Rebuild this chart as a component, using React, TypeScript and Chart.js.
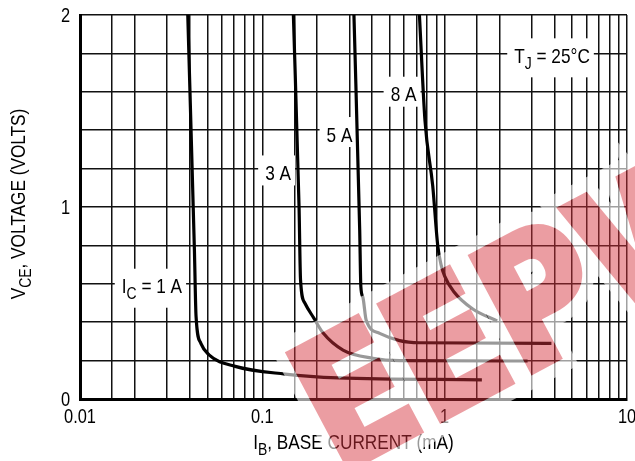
import React, { useEffect, useRef } from 'react';
import { Chart, registerables } from 'chart.js';

Chart.register(...registerables);

// ---- data (I_B in mA, V_CE in volts) ----
const ib1A = [0.039, 0.0424, 0.0433, 0.046, 0.051, 0.071, 0.133, 0.26, 1.6];
const vce1A = [2.0, 0.78, 0.43, 0.29, 0.23, 0.17, 0.13, 0.11, 0.1];

const ib3A = [0.148, 0.159, 0.162, 0.171, 0.192, 0.215, 0.277, 0.404, 0.566, 2.85];
const vce3A = [2.0, 1.0, 0.62, 0.5, 0.42, 0.345, 0.255, 0.212, 0.2, 0.198];

const ib5A = [0.318, 0.342, 0.347, 0.356, 0.371, 0.44, 0.566, 0.727, 3.85];
const vce5A = [2.0, 0.88, 0.585, 0.53, 0.411, 0.342, 0.304, 0.293, 0.29];

const ib8A = [0.727, 0.78, 0.86, 0.916, 0.955, 1.0, 1.12, 1.42, 1.94];
const vce8A = [2.0, 1.45, 1.11, 0.8, 0.7, 0.64, 0.56, 0.47, 0.406];

// grid / tick values
const xGridMantissas = [1, 1.5, 2, 3, 4, 5, 6, 7, 8, 9];
const xDecades = [0.01, 0.1, 1];
const xMax = 10;
const xTickLabels = ['0.01', '0.1', '1', '10'];
const yGrid = [0, 0.2, 0.4, 0.6, 0.8, 1.0, 1.2, 1.4, 1.6, 1.8, 2.0];
const yTickLabels = ['0', '1', '2'];

// annotations (data coordinates of text centre)
const curveLabels = [
  { parts: [{ t: 'I' }, { t: 'C', sub: true }, { t: ' = 1 A' }], x: 0.0248, y: 0.59 },
  { parts: [{ t: '3 A' }], x: 0.122, y: 1.18 },
  { parts: [{ t: '5 A' }], x: 0.265, y: 1.38 },
  { parts: [{ t: '8 A' }], x: 0.595, y: 1.59 },
  { parts: [{ t: 'T' }, { t: 'J', sub: true }, { t: ' = 25°C' }], x: 3.88, y: 1.79 },
];

const xTitle = [{ t: 'I' }, { t: 'B', sub: true }, { t: ', BASE CURRENT (mA)' }];
const yTitle = [{ t: 'V' }, { t: 'CE', sub: true }, { t: ', VOLTAGE (VOLTS)' }];

const FONT = '"Liberation Sans", Arial, sans-serif';
const TXT = 21;
const TICK = 20;
const SX = 0.82; // narrow (condensed) look

type Part = { t: string; sub?: boolean };

function measureParts(ctx: CanvasRenderingContext2D, parts: Part[], size: number) {
  let w = 0;
  for (const p of parts) {
    ctx.font = `${p.sub ? Math.round(size * 0.8) : size}px ${FONT}`;
    w += ctx.measureText(p.t).width;
  }
  return w * SX;
}

function drawParts(ctx: CanvasRenderingContext2D, parts: Part[], x: number, baseline: number, size: number) {
  ctx.save();
  ctx.translate(x, baseline);
  ctx.scale(SX, 1);
  ctx.textAlign = 'left';
  ctx.textBaseline = 'alphabetic';
  let cx = 0;
  for (const p of parts) {
    const s = p.sub ? Math.round(size * 0.8) : size;
    ctx.font = `${s}px ${FONT}`;
    ctx.fillText(p.t, cx, p.sub ? size * 0.27 : 0);
    cx += ctx.measureText(p.t).width;
  }
  ctx.restore();
}

function toXY(xs: number[], ys: number[]) {
  return xs.map((x, i) => ({ x, y: ys[i] }));
}

function drawWatermark(ctx: CanvasRenderingContext2D, W: number, H: number) {
  const setup = (c: CanvasRenderingContext2D) => {
    c.translate(W * 0.532, H * 1.028);
    c.rotate((-28 * Math.PI) / 180);
    c.scale(0.86, 1);
    c.font = 'bold 176px "DejaVu Sans", sans-serif';
    c.textAlign = 'left';
    c.textBaseline = 'alphabetic';
    c.lineJoin = 'miter';
  };
  // white halo
  const halo = document.createElement('canvas');
  halo.width = W;
  halo.height = H;
  const hc = halo.getContext('2d') as CanvasRenderingContext2D;
  hc.save();
  setup(hc);
  hc.strokeStyle = '#fff';
  hc.lineWidth = 34;
  hc.strokeText('EEPW', 0, 0);
  hc.globalCompositeOperation = 'destination-out';
  hc.fillStyle = '#000';
  hc.strokeStyle = '#000';
  hc.lineWidth = 8;
  hc.fillText('EEPW', 0, 0);
  hc.strokeText('EEPW', 0, 0);
  hc.restore();
  // red letters
  const red = document.createElement('canvas');
  red.width = W;
  red.height = H;
  const rc = red.getContext('2d') as CanvasRenderingContext2D;
  rc.save();
  setup(rc);
  rc.fillStyle = 'rgb(214,52,62)';
  rc.strokeStyle = 'rgb(214,52,62)';
  rc.lineWidth = 8;
  rc.fillText('EEPW', 0, 0);
  rc.strokeText('EEPW', 0, 0);
  rc.restore();

  ctx.save();
  ctx.globalAlpha = 0.6;
  ctx.drawImage(halo, 0, 0);
  ctx.globalAlpha = 0.48;
  ctx.drawImage(red, 0, 0);
  ctx.restore();
}

const annotationPlugin = {
  id: 'annotations',
  beforeDatasetsDraw(chart: any) {
    const ctx: CanvasRenderingContext2D = chart.ctx;
    const xs = chart.scales.x;
    const ys = chart.scales.y;
    ctx.save();
    for (const l of curveLabels) {
      const px = xs.getPixelForValue(l.x);
      const py = ys.getPixelForValue(l.y);
      const w = measureParts(ctx, l.parts, TXT);
      const hasSub = l.parts.some((p: Part) => p.sub);
      const left = px - w / 2;
      ctx.fillStyle = '#fff';
      ctx.fillRect(left - 7, py - 17, w + 11, hasSub ? 39 : 30);
      ctx.fillStyle = '#000';
      drawParts(ctx, l.parts, left, py + TXT * 0.36, TXT);
    }
    ctx.restore();
  },
  afterDraw(chart: any) {
    const ctx: CanvasRenderingContext2D = chart.ctx;
    const area = chart.chartArea;
    const xs = chart.scales.x;
    const ys = chart.scales.y;
    ctx.save();
    ctx.fillStyle = '#000';
    // tick labels (placed through the chart's own scales)
    for (const t of xTickLabels) {
      const px = xs.getPixelForValue(Number(t));
      const w = measureParts(ctx, [{ t }], TICK);
      drawParts(ctx, [{ t }], px - w / 2, area.bottom + 24, TICK);
    }
    for (const t of yTickLabels) {
      const py = ys.getPixelForValue(Number(t));
      const w = measureParts(ctx, [{ t }], TICK);
      drawParts(ctx, [{ t }], area.left - 10 - w, py + TICK * 0.36, TICK);
    }
    // x title
    const wx = measureParts(ctx, xTitle, TXT);
    drawParts(ctx, xTitle, (area.left + area.right) / 2 - wx / 2, area.bottom + 50, TXT);
    // y title
    const wy = measureParts(ctx, yTitle, TXT);
    ctx.translate(25, (area.top + area.bottom) / 2 - 3);
    ctx.rotate(-Math.PI / 2);
    drawParts(ctx, yTitle, -wy / 2, 0, TXT);
    ctx.restore();

    drawWatermark(ctx, chart.width, chart.height);
  },
};

export default function App() {
  const ref = useRef<HTMLCanvasElement | null>(null);

  useEffect(() => {
    if (!ref.current) return;
    const xGrid: number[] = [];
    for (const d of xDecades) for (const m of xGridMantissas) xGrid.push(+(d * m).toPrecision(3));
    xGrid.push(xMax);

    const lineDs = (label: string, xs: number[], ys: number[]) => ({
      label,
      data: toXY(xs, ys),
      borderColor: '#000',
      borderWidth: 3.2,
      pointRadius: 0,
      fill: false,
      cubicInterpolationMode: 'monotone' as const,
    });

    const chart = new Chart(ref.current, {
      type: 'line',
      data: {
        datasets: [
          lineDs('IC = 1 A', ib1A, vce1A),
          lineDs('3 A', ib3A, vce3A),
          lineDs('5 A', ib5A, vce5A),
          lineDs('8 A', ib8A, vce8A),
        ],
      },
      options: {
        animation: false,
        responsive: false,
        devicePixelRatio: 1,
        layout: { padding: { top: 15, right: 8, left: 1, bottom: 0 } },
        plugins: { legend: { display: false }, tooltip: { enabled: false } },
        scales: {
          x: {
            type: 'logarithmic',
            min: 0.01,
            max: 10,
            afterBuildTicks: (scale: any) => {
              scale.ticks = xGrid.map((v) => ({ value: v }));
            },
            afterFit: (scale: any) => {
              scale.height = 62;
            },
            ticks: { display: false, autoSkip: false },
            grid: { color: '#111', lineWidth: 1.5, drawTicks: false },
            border: { display: true, color: '#000', width: 3 },
          },
          y: {
            type: 'linear',
            min: 0,
            max: 2,
            afterBuildTicks: (scale: any) => {
              scale.ticks = yGrid.map((v) => ({ value: v }));
            },
            afterFit: (scale: any) => {
              scale.width = 79;
            },
            ticks: { display: false, autoSkip: false },
            grid: { color: '#111', lineWidth: 1.5, drawTicks: false },
            border: { display: true, color: '#000', width: 3 },
          },
        },
      },
      plugins: [annotationPlugin],
    });
    return () => chart.destroy();
  }, []);

  return (
    <div style={{ position: 'absolute', left: 0, top: 0, width: 635, height: 461, background: '#fff' }}>
      <canvas ref={ref} width={635} height={461} style={{ width: 635, height: 461, display: 'block' }} />
    </div>
  );
}
